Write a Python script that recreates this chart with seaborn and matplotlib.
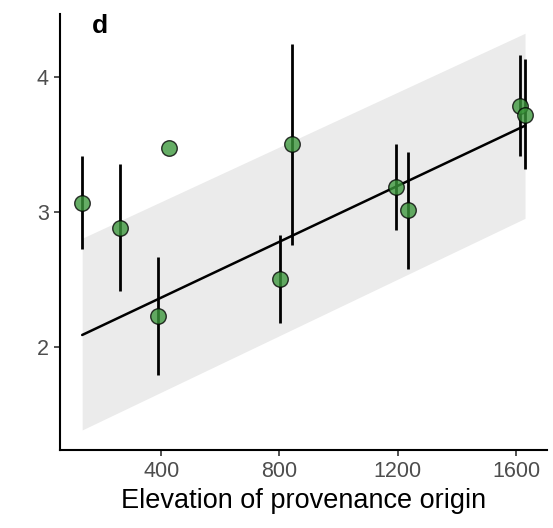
"""Trait vs elevation of provenance origin - panel d"""
import numpy as np
import pandas as pd
import matplotlib
matplotlib.use('Agg')
import matplotlib.pyplot as plt
import seaborn as sns

# Data
elevation = [133, 261, 425, 389, 802, 843, 1194, 1236, 1614, 1630]
trait_mean = [3.067, 2.884, 3.473, 2.228, 2.50, 3.504, 3.183, 3.015, 3.787, 3.72]
err_low = [2.725, 2.41, np.nan, 1.79, 2.174, 2.755, 2.866, 2.577, 3.416, 3.317]
err_high = [3.418, 3.36, np.nan, 2.668, 2.83, 4.247, 3.505, 3.448, 4.166, 4.134]

# Fitted line and band at the ends of the elevation range
fit_x = [133, 1630]
fit_y = [2.087, 3.641]
band_low = [1.382, 2.953]
band_high = [2.805, 4.327]

df = pd.DataFrame({'elevation': elevation, 'trait': trait_mean,
                   'low': err_low, 'high': err_high})
fit = pd.DataFrame({'elevation': fit_x, 'trait': fit_y,
                    'low': band_low, 'high': band_high})

sns.set_style('white')
plt.rcParams['font.family'] = ['Liberation Sans', 'DejaVu Sans']

fig = plt.figure(figsize=(5.53, 5.28), dpi=100)
ax = fig.add_axes([0.1085, 0.1477, 0.8805, 0.8258])

# Band
ax.fill_between(fit['elevation'], fit['low'], fit['high'],
                color='#ebebeb', linewidth=0, zorder=1)

# Regression line
sns.lineplot(data=fit, x='elevation', y='trait', color='black',
             linewidth=1.8, ax=ax, zorder=2)

# Error bars
bars = df.dropna()
ax.vlines(bars['elevation'], bars['low'], bars['high'],
          color='black', linewidth=2.0, zorder=3)

# Points
sns.scatterplot(data=df, x='elevation', y='trait', color='#3a963a',
                alpha=0.78, s=125, edgecolor='black', linewidth=1.0,
                ax=ax, zorder=4)

ax.set_xlim(58, 1704)
ax.set_ylim(1.233, 4.47)
ax.set_xticks([400, 800, 1200, 1600])
ax.set_yticks([2, 3, 4])
ax.set_xlabel('Elevation of provenance origin', fontsize=19.5, color='black', labelpad=4)
ax.set_ylabel('')

for side in ['top', 'right']:
    ax.spines[side].set_visible(False)
for side in ['left', 'bottom']:
    ax.spines[side].set_color('black')
    ax.spines[side].set_linewidth(1.5)

ax.tick_params(axis='both', which='major', direction='out', length=4, width=1.2,
               color='#333333', labelsize=15.5, labelcolor='#4d4d4d', pad=4,
               bottom=True, left=True)

fig.text(92 / 553, 1 - 33 / 528, 'd', fontsize=19, fontweight='bold',
         color='black', ha='left', va='baseline')

plt.savefig('out.png', dpi=100)
